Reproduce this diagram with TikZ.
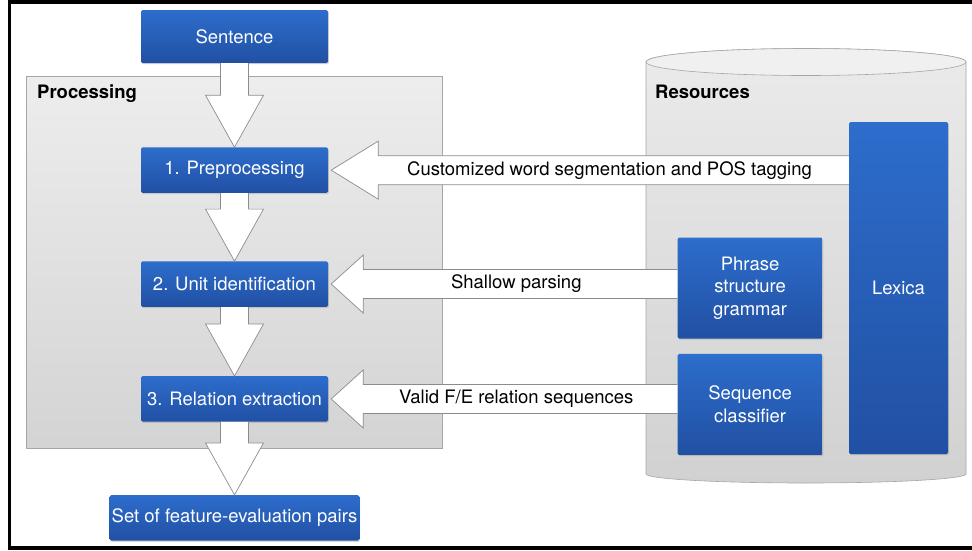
\documentclass[tikz,border=0pt]{standalone}
\usepackage{fontspec}
\setmainfont{TeX Gyre Heros}
\usepackage{tikz}
\usetikzlibrary{positioning,calc,shadows}
\definecolor{stagetop}{RGB}{45,109,204}
\definecolor{stagebot}{RGB}{33,80,163}
\definecolor{arrowgray}{RGB}{140,140,140}

\begin{document}
\begin{tikzpicture}[
  x=1pt, y=-1pt,
  txt/.style={font=\fontsize{18.5}{22.5}\selectfont},
  stage/.style={txt,rectangle,rounded corners=1.5pt,top color=stagetop,bottom color=stagebot,text=white,align=center,minimum width=187pt,minimum height=45.5pt,inner sep=2pt,drop shadow={shadow xshift=0.8pt,shadow yshift=-1.2pt,opacity=0.3}},
  res/.style={stage,minimum width=145pt,minimum height=101pt},
  panel/.style={rectangle,draw=black!35,top color=black!7,bottom color=black!17,line width=0.6pt},
  cyl/.style={draw=black!35,top color=black!8,bottom color=black!18,line width=0.6pt},
  cyltop/.style={draw=black!35,fill=black!6,line width=0.6pt},
  grouplabel/.style={font=\fontsize{18.5}{22.5}\selectfont\bfseries,inner sep=0pt},
  fatarr/.style={fill=white,draw=arrowgray,line width=0.7pt,line join=miter},
  flowlabel/.style={txt,inner sep=0pt},
  frame/.style={line width=3.5pt},
]
  \useasboundingbox (0,0) rectangle (972,550);

  % processing side
  \node[panel,minimum width=416pt,minimum height=372pt] (procpanel) at (234,262) {};
  \node[grouplabel,anchor=base west] (proclabel) at (37,98) {Processing};

  % resources cylinder
  \draw[cyl] (646,62) -- (646,474) arc[start angle=180,end angle=360,x radius=160pt,y radius=9pt]
    -- (966,62) arc[start angle=0,end angle=180,x radius=160pt,y radius=13.5pt] -- cycle;
  \draw[cyltop] (806,62) ellipse[x radius=160pt,y radius=13.5pt];
  \node[grouplabel,anchor=base west] (reslabel) at (655,98) {Resources};

  \node[stage,minimum height=53pt] (sent) at (234.5,36.5) {Sentence};
  \node[stage,below=84pt of sent] (pre) {1. Preprocessing};
  \node[stage,below=68pt of pre] (unit) {2. Unit identification};
  \node[stage,below=69pt of unit] (rel) {3. Relation extraction};
  \node[stage,below=73pt of rel,minimum width=247pt] (out) {Set of feature-evaluation pairs};

  \node[res,minimum width=99pt,minimum height=332pt] (lex) at (898.5,288) {Lexica};
  \node[res,left=26pt of lex] (phr) {Phrase\\structure\\grammar};
  \node[res,below=15pt of phr] (seq) {Sequence\\classifier};

  % block arrows
  \foreach \a/\b in {sent/pre,pre/unit,unit/rel,rel/out}
    \draw[fatarr] let \p1=(\a.south), \p2=(\b.north) in
      (\x1-14pt,\y1) -- (\x1-14pt,\y2+52pt) -- (\x1-29pt,\y2+52pt) -- (\x1,\y2)
      -- (\x1+29pt,\y2+52pt) -- (\x1+14pt,\y2+52pt) -- (\x1+14pt,\y1);

  \foreach \src/\dst/\hl/\lbl in {lex/pre/47/{Customized word segmentation and POS tagging},phr/unit/32/{Shallow parsing},seq/rel/32/{Valid F/E relation sequences}}
    \draw[fatarr] let \p1=(\src.west |- \dst.east), \p2=(\dst.east) in
      (\x1,\y1+14.5pt) -- (\x2+3pt+\hl pt,\y1+14.5pt) -- (\x2+3pt+\hl pt,\y1+29pt) -- (\x2+3pt,\y1)
      -- (\x2+3pt+\hl pt,\y1-29pt) -- (\x2+3pt+\hl pt,\y1-14.5pt) -- (\x1,\y1-14.5pt)
      node[flowlabel] at ({(\x1+\x2+3pt+\hl pt)/2-4pt},\y1) {\lbl};

  \draw[frame] (972,2) -- (9.5,2) -- (9.5,548) -- (972,548);
\end{tikzpicture}
\end{document}
